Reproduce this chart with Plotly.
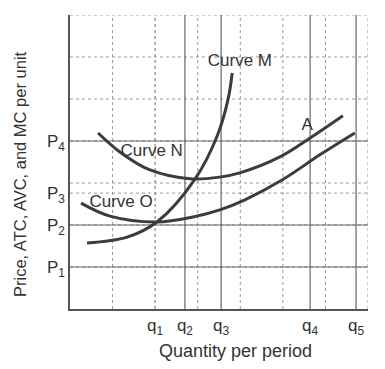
import plotly.graph_objects as go

# Tick positions (grid units)
q_vals = [2.0, 2.70, 3.55, 5.64, 6.72]
q_labels = ["q<sub>1</sub>", "q<sub>2</sub>", "q<sub>3</sub>", "q<sub>4</sub>", "q<sub>5</sub>"]
q_solid = [False, True, True, True, True]
p_vals = [1.0, 2.0, 2.76, 4.0]
p_labels = ["P<sub>1</sub>", "P<sub>2</sub>", "P<sub>3</sub>", "P<sub>4</sub>"]
p_solid = [True, True, False, True]
grid_vals = [1, 2, 3, 4, 5, 6, 7]

# Curve M (MC)
m_x = [0.40, 1.34, 2.04, 2.94, 3.45, 3.71, 3.81]
m_y = [1.57, 1.71, 2.07, 3.10, 4.10, 4.98, 5.62]
# Curve N (ATC)
n_x = [0.66, 1.17, 1.88, 2.82, 3.52, 3.99, 4.93, 5.64, 6.41]
n_y = [4.19, 3.74, 3.31, 3.10, 3.14, 3.24, 3.62, 4.07, 4.60]
# Curve O (AVC)
o_x = [0.26, 0.94, 2.04, 2.89, 3.52, 4.11, 4.98, 5.87, 6.69]
o_y = [2.52, 2.21, 2.07, 2.19, 2.36, 2.60, 3.07, 3.67, 4.19]

labels_text = ["Curve M", "Curve N", "Curve O", "A"]
labels_x = [3.99, 1.92, 1.20, 5.57]
labels_y = [5.88, 3.74, 2.52, 4.36]

x_title = "Quantity per period"
y_title = "Price, ATC, AVC, and MC per unit"

curve_color = "#3c3c3c"
font_family = "Liberation Sans, Arial, sans-serif"
fig = go.Figure()

# grid lines (dotted)
for g in grid_vals:
    fig.add_vline(x=g, line=dict(color="#999", width=1, dash="dot"), layer="below")
    fig.add_hline(y=g, line=dict(color="#999", width=1, dash="dot"), layer="below")
for v, s in zip(q_vals, q_solid):
    fig.add_vline(x=v, line=dict(color="#666" if s else "#999", width=1.2 if s else 1,
                                 dash="solid" if s else "dot"), layer="below")
for v, s in zip(p_vals, p_solid):
    fig.add_hline(y=v, line=dict(color="#666" if s else "#999", width=1.2 if s else 1,
                                 dash="solid" if s else "dot"), layer="below")

for xs, ys in [(m_x, m_y), (n_x, n_y), (o_x, o_y)]:
    fig.add_trace(go.Scatter(x=xs, y=ys, mode="lines",
                             line=dict(color=curve_color, width=3, shape="spline", smoothing=1.0),
                             hoverinfo="skip", showlegend=False))

fig.add_trace(go.Scatter(x=labels_x, y=labels_y, mode="text", text=labels_text,
                         textfont=dict(family=font_family, size=17, color="#333"),
                         showlegend=False, hoverinfo="skip"))

fig.add_annotation(text=x_title, xref="paper", yref="paper", x=0.5, y=0, xshift=16, yshift=-42,
                   showarrow=False, font=dict(size=18, color="#333"), xanchor="center", yanchor="middle")
fig.add_annotation(text=y_title, xref="paper", yref="paper", x=0, y=0.5, xshift=-50, yshift=-12,
                   textangle=-90, showarrow=False, font=dict(size=16.5, color="#333"),
                   xanchor="center", yanchor="middle")

fig.update_layout(
    width=369, height=353,
    margin=dict(l=62, r=9, t=7, b=52),
    paper_bgcolor="white", plot_bgcolor="white",
    font=dict(family=font_family, color="#333"),
    xaxis=dict(range=[0, 7], tickvals=q_vals, ticktext=q_labels, showgrid=False, zeroline=False,
               showline=True, linecolor="#555", linewidth=1.5, mirror=False, ticks="",
               tickfont=dict(size=17), fixedrange=True, automargin=False),
    yaxis=dict(range=[0, 7], tickvals=p_vals, ticktext=p_labels, showgrid=False, zeroline=False,
               showline=True, linecolor="#555", linewidth=1.5, mirror=False, ticks="",
               tickfont=dict(size=17), fixedrange=True, automargin=False),
)

fig.write_html("out.html")
